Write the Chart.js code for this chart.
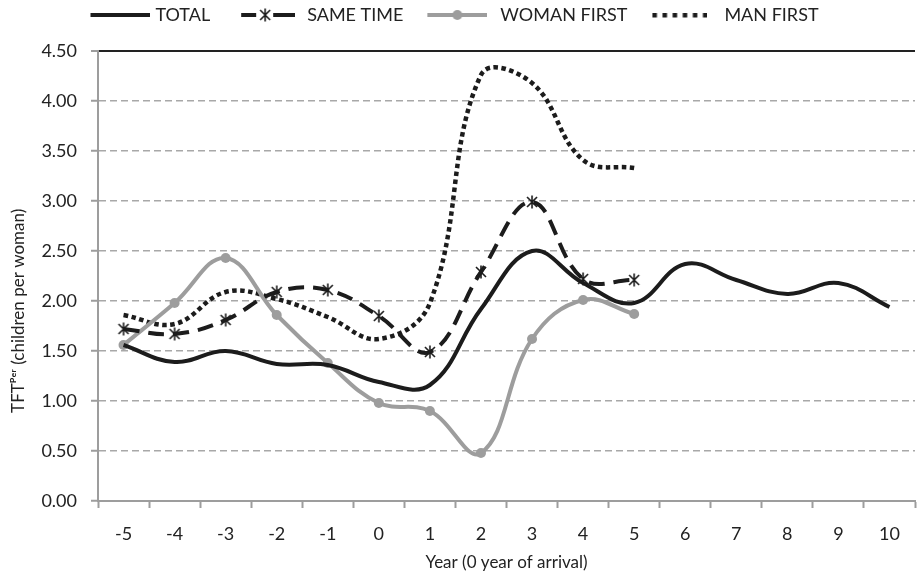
<!DOCTYPE html>
<html><head><meta charset="utf-8">
<script src="https://cdn.jsdelivr.net/npm/chart.js@4.4.1/dist/chart.umd.min.js"></script>
<style>html,body{margin:0;padding:0;background:#fff;overflow:hidden}#wrap{width:926px;height:573px;position:relative}</style>
</head><body><div id="wrap"><canvas id="c" width="926" height="573"></canvas></div>
<script>
const years = ['-5','-4','-3','-2','-1','0','1','2','3','4','5','6','7','8','9','10'];
const total      = [1.56, 1.39, 1.50, 1.37, 1.36, 1.19, 1.16, 1.92, 2.50, 2.18, 1.98, 2.37, 2.21, 2.07, 2.18, 1.94];
const sameTime   = [1.72, 1.67, 1.81, 2.09, 2.11, 1.85, 1.49, 2.29, 2.99, 2.22, 2.21, null, null, null, null, null];
const womanFirst = [1.56, 1.98, 2.43, 1.86, 1.38, 0.98, 0.90, 0.48, 1.62, 2.01, 1.87, null, null, null, null, null];
const manFirst   = [1.86, 1.77, 2.09, 2.02, 1.84, 1.62, 1.98, 4.26, 4.18, 3.41, 3.33, null, null, null, null, null];
const seriesNames = ['TOTAL', 'SAME TIME', 'WOMAN FIRST', 'MAN FIRST'];
const yTitle = 'TFTᴾᵉʳ (children per woman)';
const xTitle = 'Year (0 year of arrival)';

const BLACK = '#1c1c1c', GREY = '#9d9d9d', TEXT = '#222';
const FONT = 'Lato';
const LEG_BOX = 82, LEG_FONT = 18;

function makeCanvas(w, h, draw) { const c = document.createElement('canvas'); c.width = w; c.height = h; draw(c.getContext('2d')); return c; }
const starMarker = makeCanvas(14, 14, g => {
  g.strokeStyle = BLACK; g.lineWidth = 1.6; g.beginPath();
  g.moveTo(2, 2); g.lineTo(12, 12); g.moveTo(12, 2); g.lineTo(2, 12);
  g.moveTo(7, 0.5); g.lineTo(7, 13.5); g.stroke();
});
// legend sample: visible strip of width `vis`, ending `gap` px before the label text
function legendSample(vis, gap, draw) {
  const right = LEG_BOX / 2 + LEG_FONT / 2 - gap, left = right - vis;
  const half = Math.ceil(Math.max(Math.abs(left), Math.abs(right)));
  return makeCanvas(half * 2, 14, g => draw(g, half + left));
}
const legImgs = [
  legendSample(60, 5, (g, o) => { g.fillStyle = BLACK; g.fillRect(o, 5, 60, 4); }),
  legendSample(54, 12, (g, o) => { g.fillStyle = BLACK; g.fillRect(o, 5, 15, 4); g.drawImage(starMarker, o + 17, 0); g.fillRect(o + 32, 5, 22, 4); }),
  legendSample(60, 13, (g, o) => { g.fillStyle = GREY; g.fillRect(o, 5, 60, 4); g.beginPath(); g.arc(o + 30, 7, 5, 0, Math.PI * 2); g.fill(); }),
  legendSample(55, 17, (g, o) => { g.fillStyle = BLACK; for (let i = 0; i < 6; i++) g.fillRect(o + i * 10.1, 5, 4.5, 4.5); })
];

// extra room under the legend and a small leftward shift of the legend row
const legendSpacing = {
  id: 'legendSpacing',
  beforeUpdate(chart) {
    const lg = chart.legend;
    if (lg && !lg._spacingPatched) {
      const fit = lg.fit.bind(lg);
      lg.fit = function () { fit(); this.height += 17; if (this.lineWidths) this.lineWidths[0] += 43; };
      lg._spacingPatched = true;
    }
  }
};

const isTop = c => c.tick && c.tick.value === 4.5;

new Chart(document.getElementById('c'), {
  type: 'line',
  data: {
    labels: years,
    datasets: [
      { label: seriesNames[0], data: total, borderColor: BLACK, borderWidth: 4, pointRadius: 0, tension: 0.4, fill: false },
      { label: seriesNames[1], data: sameTime, borderColor: BLACK, borderWidth: 4, borderDash: [16, 9], pointStyle: starMarker, pointRadius: 7, tension: 0.4, fill: false },
      { label: seriesNames[2], data: womanFirst, borderColor: GREY, borderWidth: 4, pointStyle: 'circle', pointRadius: 5, pointBackgroundColor: GREY, pointBorderColor: GREY, pointBorderWidth: 0, tension: 0.4, fill: false },
      { label: seriesNames[3], data: manFirst, borderColor: BLACK, borderWidth: 4.5, borderDash: [4.5, 3.5], borderCapStyle: 'butt', pointRadius: 0, tension: 0.4, fill: false }
    ]
  },
  plugins: [legendSpacing],
  options: {
    responsive: false, animation: false, devicePixelRatio: 1,
    layout: { padding: 0 },
    plugins: {
      tooltip: { enabled: false },
      legend: {
        position: 'top', align: 'center',
        labels: {
          usePointStyle: true, pointStyleWidth: LEG_BOX, boxHeight: 14, padding: 6,
          font: { family: FONT, size: LEG_FONT }, color: TEXT,
          generateLabels: () => seriesNames.map((n, i) => ({ text: n, pointStyle: legImgs[i], fillStyle: 'rgba(0,0,0,0)', strokeStyle: 'rgba(0,0,0,0)', lineWidth: 0, hidden: false, datasetIndex: i, fontColor: TEXT }))
        }
      }
    },
    scales: {
      x: {
        type: 'category', offset: true,
        grid: { display: true, drawOnChartArea: false, drawTicks: true, offset: true, tickLength: 7, tickColor: GREY, tickWidth: 2 },
        border: { display: true, color: GREY, width: 2 },
        ticks: { font: { family: FONT, size: 18 }, color: TEXT, padding: 15, maxRotation: 0, autoSkip: false },
        title: { display: true, text: xTitle, font: { family: FONT, size: 17 }, color: TEXT, padding: { top: 0, bottom: 0 } },
        afterFit: s => { s.height = 72; }
      },
      y: {
        min: 0, max: 4.5,
        ticks: { stepSize: 0.5, callback: v => Number(v).toFixed(2), font: { family: FONT, size: 18 }, color: TEXT, padding: 14 },
        grid: { color: c => isTop(c) ? '#222' : '#a8a8a8', lineWidth: c => isTop(c) ? 2 : 1.5, drawTicks: true, tickLength: 7, tickColor: GREY, tickWidth: 2 },
        border: { display: true, color: GREY, width: 2, dash: c => isTop(c) ? [] : [7, 4] },
        title: { display: true, text: yTitle + ' '.repeat(16), font: { family: FONT, size: 17 }, color: TEXT, padding: { top: 8, bottom: 0 } },
        afterFit: s => { s.width = 98; }
      }
    }
  }
});
</script>
</body></html>
